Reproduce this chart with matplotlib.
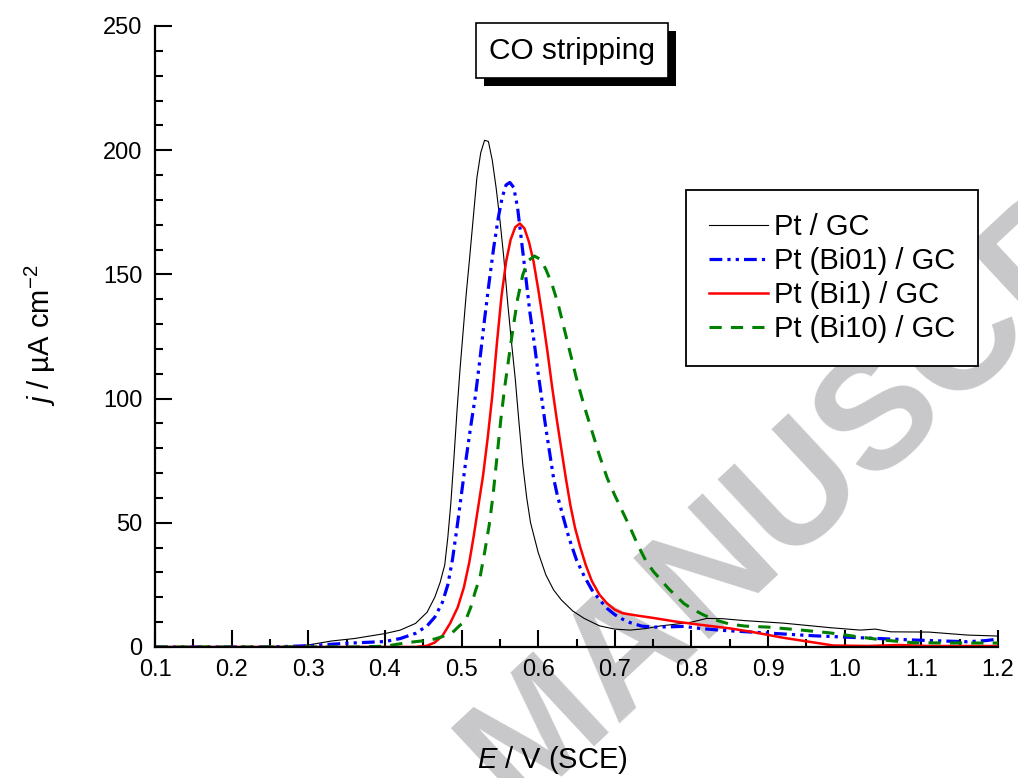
# CO stripping voltammograms, Pt / GC with Bi

import matplotlib
matplotlib.use("Agg")
import matplotlib.pyplot as plt
import matplotlib.patheffects as pe
from matplotlib.ticker import MultipleLocator

plt.rcParams['font.family'] = ['Liberation Sans', 'DejaVu Sans']
plt.rcParams['mathtext.fontset'] = 'custom'
plt.rcParams['mathtext.rm'] = 'Liberation Sans'
plt.rcParams['mathtext.it'] = 'Liberation Sans:italic'

# Pt / GC
e_pt = [0.10, 0.20, 0.28, 0.30, 0.33, 0.36, 0.40, 0.42, 0.44, 0.455, 0.465, 0.472,
        0.478, 0.482, 0.486, 0.49, 0.494, 0.498, 0.502, 0.506, 0.51, 0.515, 0.52,
        0.525, 0.53, 0.535, 0.54, 0.545, 0.55, 0.555, 0.56, 0.565, 0.57, 0.575,
        0.58, 0.585, 0.59, 0.60, 0.61, 0.62, 0.63, 0.645, 0.66, 0.68, 0.70, 0.72,
        0.74, 0.76, 0.78, 0.80, 0.82, 0.84, 0.87, 0.92, 0.98, 1.02, 1.04, 1.06,
        1.11, 1.16, 1.20]
j_pt = [0, 0, 0.3, 0.8, 2.4, 3.4, 5.4, 6.8, 9.5, 14, 20, 26,
        33, 44, 58, 76, 95, 112, 127, 142, 155, 172, 189,
        199, 204, 203.5, 196, 185, 172, 157, 139, 123, 108, 90,
        73, 60, 50, 38, 29, 23, 19, 14.5, 11.5, 8.5, 7.2, 6.8,
        7.4, 8.5, 9.2, 10, 11.5, 11.4, 10.6, 9.6, 7.8, 6.8, 7.2, 6.1,
        6, 4.8, 4.4]

# Pt (Bi01) / GC
e_bi01 = [0.10, 0.25, 0.30, 0.35, 0.40, 0.42, 0.44, 0.455, 0.465, 0.475, 0.482, 0.488,
          0.494, 0.50, 0.506, 0.512, 0.518, 0.524, 0.53, 0.536, 0.542, 0.548, 0.553,
          0.558, 0.563, 0.568, 0.573, 0.578, 0.583, 0.589, 0.595, 0.60, 0.605, 0.61,
          0.615, 0.62, 0.625, 0.632, 0.64, 0.65, 0.66, 0.67, 0.68, 0.69, 0.70, 0.71,
          0.72, 0.735, 0.75, 0.77, 0.79, 0.81, 0.84, 0.90, 0.96, 1.03, 1.09, 1.16,
          1.185, 1.20]
j_bi01 = [0, 0, 0.5, 1.5, 2.2, 3.4, 5.5, 8.5, 12, 18, 25, 35,
          48, 62, 76, 89, 101, 116, 132, 147, 161, 173, 181,
          186, 187, 185, 177, 164, 151, 135, 122, 110, 99, 88,
          78, 68, 61, 53, 44, 35, 28.5, 23, 19, 15.5, 13, 11.2,
          9.8, 8.4, 8, 8.1, 8.3, 7.5, 6.7, 5.6, 4.5, 3.6, 2.8, 2.1,
          2.6, 3.2]

# Pt (Bi1) / GC
e_bi1 = [0.10, 0.44, 0.455, 0.465, 0.475, 0.485, 0.495, 0.503, 0.51, 0.516, 0.522, 0.528,
         0.534, 0.54, 0.546, 0.552, 0.558, 0.564, 0.57, 0.576, 0.582, 0.588, 0.594,
         0.60, 0.606, 0.612, 0.618, 0.624, 0.63, 0.636, 0.642, 0.648, 0.655, 0.662,
         0.67, 0.68, 0.69, 0.70, 0.71, 0.73, 0.75, 0.78, 0.81, 0.85, 0.88, 0.92,
         0.96, 0.985, 1.03, 1.07, 1.11, 1.20]
j_bi1 = [0, 0, 0.5, 1.8, 4.5, 9.5, 16, 24, 34, 45, 57, 69,
         84, 101, 122, 141, 155, 164, 169, 170.5, 168.5, 163, 155,
         144, 132, 119, 105, 92, 80, 68, 57, 48, 40, 33,
         26.5, 21, 17.5, 15, 13.6, 12.6, 11.7, 10.2, 9, 7.5, 6, 3.7,
         1.8, 0.6, 0.4, 0.8, 0.4, 0.4]

# Pt (Bi10) / GC
e_bi10 = [0.10, 0.36, 0.40, 0.43, 0.45, 0.465, 0.478, 0.488, 0.497, 0.505, 0.512, 0.518,
          0.524, 0.53, 0.536, 0.541, 0.546, 0.551, 0.556, 0.561, 0.567, 0.573, 0.58,
          0.587, 0.595, 0.603, 0.61, 0.618, 0.626, 0.634, 0.642, 0.65, 0.66, 0.67,
          0.68, 0.69, 0.70, 0.71, 0.72, 0.73, 0.74, 0.75, 0.76, 0.77, 0.78, 0.79,
          0.80, 0.815, 0.83, 0.85, 0.87, 0.90, 0.94, 0.98, 1.02, 1.05, 1.09, 1.14, 1.20]
j_bi10 = [0, 0, 0.3, 1.8, 2.5, 3.2, 4.5, 5.8, 8.5, 10.5, 16, 22.5,
          28, 38, 49, 61, 76, 91, 104, 115, 128, 140, 150,
          155.5, 157.4, 156, 152, 146, 138, 128, 118, 108, 97, 87,
          77, 68, 61, 54.5, 48, 41, 35, 30.5, 27, 23.5, 20.5, 17.5,
          15.5, 13, 11, 9.2, 8.4, 8, 6.9, 5.7, 4, 2.8, 1.7, 1.6, 1.6]

labels = ['Pt / GC', 'Pt (Bi01) / GC', 'Pt (Bi1) / GC', 'Pt (Bi10) / GC']

fig = plt.figure(figsize=(10.18, 7.78), dpi=100)
ax = fig.add_axes([0.1523, 0.1684, 0.8281, 0.7982])
ax.patch.set_alpha(0)

# watermark behind the axes
wm = dict(rotation=43, rotation_mode='anchor', va='baseline', fontsize=116,
          fontweight='bold', color='#c8c8ca', zorder=-5)
fig.text(0.507, -0.041, 'MANUSCRIPT', ha='left', **wm)
fig.text(0.507, -0.041, 'ACCEPTED ', ha='right', **wm)

ax.plot(e_pt, j_pt, color='black', lw=0.8, label=labels[0])
ax.plot(e_bi01, j_bi01, color='blue', lw=2.3, dashes=(4, 1.6, 1, 1.6, 1, 1.6), label=labels[1])
ax.plot(e_bi1, j_bi1, color='red', lw=1.8, label=labels[2])
ax.plot(e_bi10, j_bi10, color='green', lw=2.2, dashes=(4, 3), label=labels[3])

ax.set_xlim(0.1, 1.2)
ax.set_ylim(0, 250)
ax.xaxis.set_major_locator(MultipleLocator(0.1))
ax.xaxis.set_minor_locator(MultipleLocator(0.05))
ax.yaxis.set_major_locator(MultipleLocator(50))
ax.yaxis.set_minor_locator(MultipleLocator(10))
ax.xaxis.set_major_formatter(plt.FormatStrFormatter('%.1f'))

ax.spines['top'].set_visible(False)
ax.spines['right'].set_visible(False)
ax.spines['left'].set_linewidth(1.6)
ax.spines['bottom'].set_linewidth(1.6)
ax.tick_params(which='major', direction='in', length=12, width=1.5, labelsize=17, pad=9)
ax.tick_params(which='minor', direction='in', length=6, width=1.5)

ax.set_xlabel('$E$ / V (SCE)', fontsize=21)
ax.set_ylabel('$j$ / µA cm$^{-2}$', fontsize=21)
ax.xaxis.set_label_coords(0.471, -0.157)
ax.yaxis.set_label_coords(-0.115, 0.502)

# title box with a black drop shadow
title = ax.text(0.644, 240, 'CO stripping', ha='center', va='center', fontsize=21.5,
                bbox=dict(boxstyle='square,pad=0.45', fc='white', ec='black', lw=1.2))
title.get_bbox_patch().set_path_effects(
    [pe.SimplePatchShadow(offset=(5.8, -5.8), shadow_rgbFace='black', alpha=1), pe.Normal()])

leg = ax.legend(loc='upper left', bbox_to_anchor=(0.63, 0.736), fontsize=21,
                frameon=True, fancybox=False, framealpha=1, edgecolor='black',
                handlelength=2.0, handletextpad=0.2, labelspacing=0.2,
                borderpad=0.8, borderaxespad=0)
leg.get_frame().set_linewidth(1.3)

fig.savefig('out.png', dpi=100)
